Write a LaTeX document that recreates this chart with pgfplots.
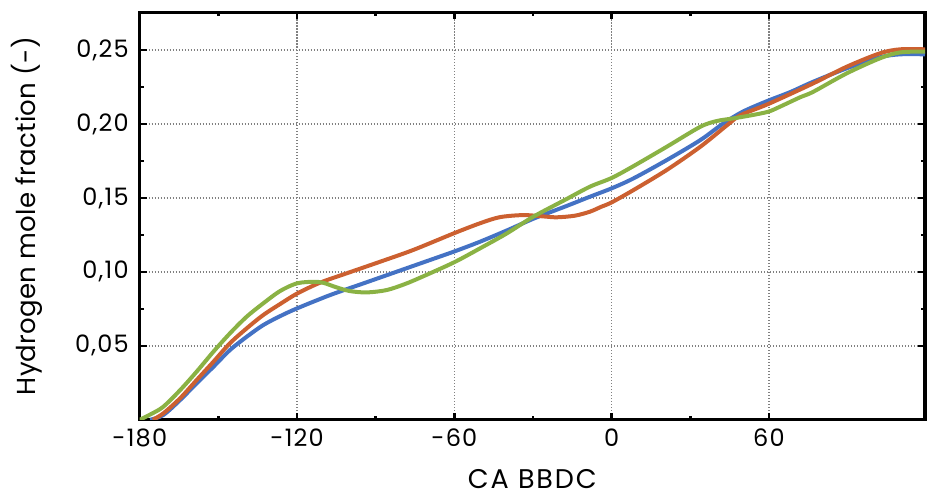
\documentclass[border=0pt]{standalone}
\usepackage{fontspec}
\setmainfont{Poppins}
\usepackage{pgfplots}
\pgfplotsset{compat=1.18}
\usetikzlibrary{calc}
\definecolor{cblue}{RGB}{68,114,196}
\definecolor{corange}{RGB}{204,96,48}
\definecolor{cgreen}{RGB}{138,178,68}
\begin{document}
\begin{tikzpicture}
\begin{axis}[
  scale only axis,
  width=392.6pt, height=203.6pt,
  xmin=-180, xmax=119.5, ymin=0, ymax=0.2754,
  xtick={-180,-120,-60,0,60},
  xticklabels={-180,-120,-60,0,60},
  minor x tick num=1,
  ytick={0.05,0.10,0.15,0.20,0.25},
  yticklabels={{0,05},{0,10},{0,15},{0,20},{0,25}},
  minor y tick num=1,
  tick align=inside,
  major tick length=3.5pt, minor tick length=2pt,
  every tick/.style={black, line width=1.2pt},
  axis line style={line width=1.6pt},
  grid=major,
  major grid style={gray, line width=0.7pt, dash pattern=on 0.6pt off 0.9pt},
  tick label style={font=\fontsize{12}{14}\selectfont\addfontfeature{LetterSpace=5}},
  xticklabel style={anchor=north, yshift=-1.2pt},
  yticklabel style={anchor=east, xshift=-2pt},
  xlabel={CA BBDC},
  ylabel={Hydrogen mole fraction (-)},
  xlabel style={font=\fontsize{13.5}{15}\selectfont\addfontfeature{LetterSpace=7},
    at={(axis description cs:0.5,-0.145)}, anchor=center},
  ylabel style={font=\fontsize{13}{15}\selectfont\addfontfeature{LetterSpace=1},
    at={(axis description cs:-0.1435,0.5)}, anchor=center, rotate=0},
  every axis plot/.append style={line width=2pt, smooth, no marks},
]
\coordinate (bl) at (rel axis cs:0,0);
\coordinate (tr) at (rel axis cs:1,1);
\addplot[cblue] coordinates {
(-176,0) (-171,0.0032) (-164.6,0.0133) (-158.3,0.0246) (-151.9,0.0358)
(-145.6,0.0471) (-139.2,0.0561) (-132.9,0.064) (-126.5,0.0700) (-120,0.0753)
(-107.4,0.0843) (-94.7,0.0922) (-82,0.1001) (-69.3,0.108) (-59.7,0.1140)
(-50.2,0.1204) (-40,0.128) (-29.5,0.1362) (-18,0.144) (-8.3,0.1508)
(0,0.1565) (8.3,0.1632) (21,0.1756) (33.8,0.1891) (42.6,0.2004)
(50.2,0.2085) (59.7,0.2158) (68,0.2215) (76.9,0.2286) (89.6,0.2376)
(102.3,0.2451) (110,0.2471) (119.5,0.2471)
};
\addplot[corange] coordinates {
(-175,0) (-171,0.0043) (-164.6,0.0145) (-158.3,0.0268) (-151.9,0.0392)
(-145.6,0.0517) (-139.2,0.0618) (-132.9,0.0708) (-126.5,0.0782) (-120,0.0853)
(-111.2,0.0927) (-101.1,0.099) (-88.4,0.1068) (-75.7,0.1148) (-60,0.1262)
(-50,0.133) (-42.6,0.1370) (-33.7,0.1384) (-26,0.1375) (-20.9,0.1369)
(-14,0.1380) (-8.3,0.1407) (-4,0.144) (0,0.147) (8.3,0.1553) (21,0.1689)
(33.8,0.1846) (44.1,0.1993) (49.2,0.206) (59.7,0.2135)
(76.9,0.2275) (89.6,0.2387) (102.3,0.2478) (110,0.2505) (119.5,0.2505)
};
\addplot[cgreen] coordinates {
(-180,0) (-175.5,0.004) (-171,0.0088) (-164.6,0.020) (-158.3,0.0325)
(-151.9,0.046) (-145.6,0.0584) (-139.2,0.0697) (-132.9,0.0787) (-126.5,0.0870)
(-120.1,0.0922) (-113.8,0.0933) (-110,0.0926) (-104.9,0.0895) (-99.8,0.087)
(-93.4,0.0861) (-85.8,0.0877) (-78.2,0.0922) (-69.3,0.099) (-59.7,0.1068)
(-50.2,0.1159) (-40,0.126) (-29.9,0.1373) (-18,0.1485) (-8.3,0.1576)
(0,0.1635) (8.3,0.1715) (21,0.1846) (33.8,0.1981) (40.1,0.202) (46.4,0.2038)
(53,0.2058) (59.7,0.2083) (64.2,0.2117) (71.8,0.218) (76.9,0.2218)
(89.6,0.2342) (102.3,0.2444) (110,0.2484) (119.5,0.249)
};
\end{axis}
\pgfresetboundingbox
\path[use as bounding box] ($(bl)+(-69.85pt,-38.15pt)$) rectangle ($(tr)+(1pt,6.25pt)$);
\end{tikzpicture}
\end{document}
